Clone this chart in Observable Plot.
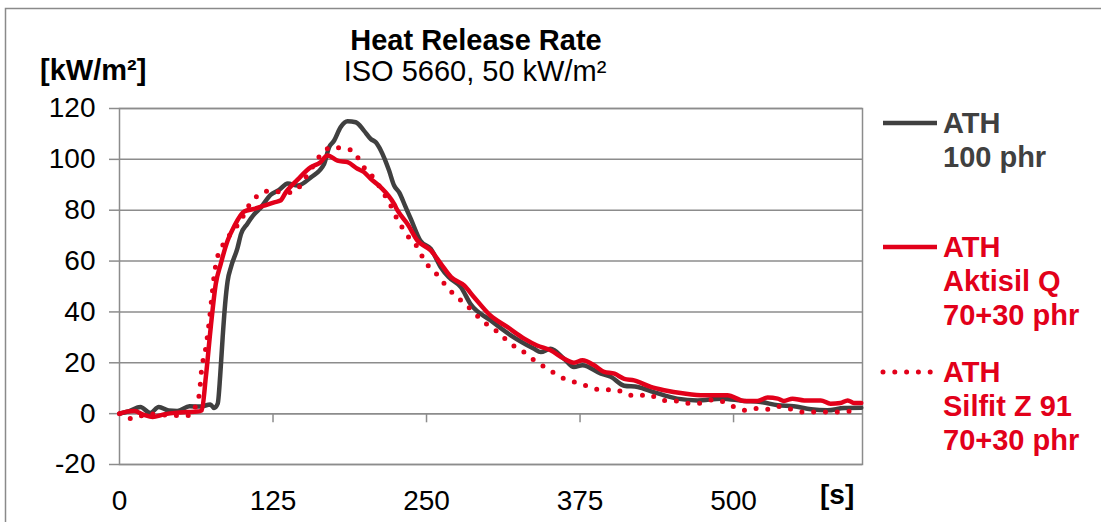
<!DOCTYPE html>
<html>
<head>
<meta charset="utf-8">
<script src="https://cdn.jsdelivr.net/npm/d3@7"></script>
<script src="https://cdn.jsdelivr.net/npm/@observablehq/plot@0.6"></script>
<style>
  html, body { margin: 0; padding: 0; background: #fff; }
  #wrap { position: relative; width: 1101px; height: 522px; overflow: hidden; }
  #wrap > svg { position: absolute; left: 0; top: 0; }
</style>
</head>
<body>
<div id="wrap"></div>
<script>
// ---- data ----
const xTicks = [0, 125, 250, 375, 500];
const yTicks = [-20, 0, 20, 40, 60, 80, 100, 120];

const seriesNames = ["ATH 100 phr", "ATH Aktisil Q 70+30 phr", "ATH Silfit Z 91 70+30 phr"];

// ATH 100 phr
const athT = [0, 8, 17, 25, 32, 40, 47, 57, 66, 74, 77, 80, 82, 84, 86, 88, 91, 96, 99, 104, 110, 115, 123, 130, 137, 145, 156, 166.6, 170.7, 174.8, 180, 185.7, 192.4, 199, 204.6, 208.7, 212.8, 219.5, 223.6, 227.7, 233, 237.2, 245, 253.5, 261.6, 268, 278, 286, 302, 318.6, 337.6, 343, 351, 362, 370, 377, 392, 400, 411, 422, 435, 454, 470.7, 490, 508.6, 522, 536, 549, 563, 576.5, 590, 604];
const athV = [0, 1, 2.6, 0.3, 2.6, 1.2, 1, 2.9, 2.8, 3.6, 2.2, 4, 15, 30, 43, 52, 58, 65, 70.7, 74.6, 78.6, 81, 86, 88, 90.5, 89.7, 93, 98.2, 104.8, 107.4, 112.6, 115, 114.6, 111.3, 108, 106.7, 103.5, 95.6, 89.7, 87, 81.2, 76.6, 68, 64.8, 57.6, 53.7, 49.7, 43, 36.7, 30.8, 25.5, 24.2, 25.5, 21.6, 18.3, 19, 15.7, 14.5, 11, 10.5, 8.5, 5.9, 5.2, 5.9, 5, 4.6, 3.3, 2.9, 1.7, 1.3, 2.2, 2.3];

// ATH / Aktisil Q 70+30 phr
const akT = [0, 6, 12, 20, 27, 36, 47, 55, 63.5, 67, 70.3, 74.3, 78.4, 82.5, 88, 93, 101.5, 109.6, 117.7, 126, 131, 135.4, 145, 155.8, 163, 169.4, 177.5, 185.7, 193.8, 199, 204.6, 212.8, 223.6, 226.4, 234.5, 242.7, 253.5, 261.6, 270, 280.6, 288.7, 302, 316, 329.5, 340, 351, 362, 370, 377, 386.5, 394.6, 403, 411, 419, 432.6, 443.5, 459.8, 476, 495, 508.6, 519.5, 527.7, 536, 541, 548, 557.5, 571, 579, 587, 593, 598, 604];
const akV = [0, 0.8, 1, -0.5, -1.3, -0.3, 0.4, 0.6, 0.8, 1.3, 14.4, 34, 51, 59, 68, 73.3, 79.5, 80.5, 81.8, 83.1, 83.8, 87, 92, 96.9, 98.6, 101.5, 99.5, 98.9, 96.3, 95, 92.3, 89, 82.5, 79.9, 74.6, 68, 64.2, 59, 53.7, 50.4, 45.8, 38.6, 34, 29.5, 26.8, 24.9, 21.6, 20, 21, 19, 16.4, 15.7, 13.7, 13.1, 10.5, 9.2, 7.9, 7.2, 7.2, 5, 5, 6.3, 5.9, 5, 5.9, 5.2, 5.2, 3.9, 4.2, 5.2, 4.2, 4.2];

// ATH / Silfit Z 91 70+30 phr
const sfT = [0, 11, 23, 35, 47, 57, 62, 65, 66.8, 70.3, 73, 75, 77, 79.5, 86.6, 92.4, 99, 102.9, 108.3, 115.8, 124.6, 134, 143.2, 149, 154.4, 165.2, 173.7, 181.8, 190, 195.5, 201, 207.6, 212.8, 222.3, 226.4, 231.8, 237.2, 244, 248, 255, 261, 267, 274, 281.4, 288.3, 295, 303, 310.5, 317.3, 326, 333.6, 341, 349.8, 358, 366, 375.6, 384.6, 393.8, 402.8, 412, 421, 430.8, 439.4, 449, 456.5, 465, 474.8, 484, 494, 502.7, 511, 520.8, 529.8, 538.5, 548, 557, 566.5, 576.5, 586, 595, 603];
const sfV = [0, -2, 0, -0.5, -0.7, -0.7, 3, 7.8, 17, 26, 36, 45, 54, 61, 68, 72, 76, 80, 83.6, 86.9, 87.7, 86.8, 87.6, 91, 95, 102.5, 105, 104.1, 103.6, 99.5, 95.6, 92.4, 88.4, 80.5, 76.2, 72.1, 68.2, 64.6, 60.2, 56.7, 53.3, 49.6, 46.2, 43.2, 40, 36.7, 33.8, 31.2, 27.7, 25.5, 22.5, 19.9, 17.3, 14.7, 13.1, 11.8, 10.2, 9.2, 9.6, 7.9, 6.8, 7.6, 5.6, 5, 5, 3.9, 4.3, 5.5, 4.2, 2.2, 1.3, 2.2, 1.7, 2.9, 1.6, 0.6, 0.6, 0.6, 0.6, 1, 1.3];

const toRows = (T, V) => T.map((t, i) => ({t, v: V[i]}));
const ath = toRows(athT, athV);
const ak = toRows(akT, akV);
const sf = toRows(sfT, sfV);

const GRAY = "#404040";
const RED = "#e2001a";
const GRID = "#8c8c8c";
const FONT = "'Liberation Sans', Arial, Helvetica, sans-serif";

const chart = Plot.plot({
  width: 1101,
  height: 522,
  marginLeft: 119,
  marginRight: 239,
  marginTop: 108,
  marginBottom: 58,
  style: {fontFamily: FONT, fontSize: "28px", color: "#000", background: "transparent", overflow: "visible"},
  x: {domain: [0, 605], axis: null},
  y: {domain: [-20, 120], axis: null},
  marks: [
    Plot.gridY(yTicks, {stroke: GRID, strokeOpacity: 1, strokeWidth: 1.5}),
    Plot.frame({stroke: GRID, strokeWidth: 1.5}),
    Plot.axisY(yTicks, {tickSize: 10, tickPadding: 14, fontSize: 28, stroke: GRID, strokeWidth: 1.5, fill: "#000", label: null, tickFormat: d => String(d)}),
    Plot.axisX(xTicks, {tickSize: 0, tickPadding: 26, fontSize: 28, fill: "#000", label: null, tickFormat: d => String(d)}),
    Plot.ruleX(xTicks.filter(d => d > 0), {y1: 0, y2: -3.6, stroke: GRID, strokeWidth: 1.5}),
    Plot.ruleY([0], {stroke: GRID, strokeWidth: 1.5}),
    Plot.line(ath, {x: "t", y: "v", stroke: GRAY, strokeWidth: 4.5, curve: "monotone-x"}),
    Plot.line(ak, {x: "t", y: "v", stroke: RED, strokeWidth: 4.5, curve: "monotone-x"}),
    Plot.line(sf, {x: "t", y: "v", stroke: RED, strokeWidth: 5, strokeDasharray: "0 11.8", strokeLinecap: "round", curve: "monotone-x"})
  ]
});

const wrap = document.getElementById("wrap");
wrap.appendChild(chart);

// ---- overlay: titles, unit labels, legend, outer border ----
const ov = d3.select(wrap).append("svg")
  .attr("width", 1101).attr("height", 522)
  .style("font-family", FONT);

ov.append("path").attr("d", "M5.5,522V8.5H1101").attr("fill", "none").attr("stroke", "#8a8a8a").attr("stroke-width", 1.5);

ov.append("text").attr("x", 476).attr("y", 50).attr("text-anchor", "middle")
  .attr("font-size", 29).attr("font-weight", "bold").attr("fill", "#000").text("Heat Release Rate");
ov.append("text").attr("x", 475).attr("y", 81).attr("text-anchor", "middle")
  .attr("font-size", 29).attr("fill", "#000").text("ISO 5660, 50 kW/m²");
ov.append("text").attr("x", 40).attr("y", 80)
  .attr("font-size", 29).attr("font-weight", "bold").attr("fill", "#000").text("[kW/m²]");
ov.append("text").attr("x", 820).attr("y", 504)
  .attr("font-size", 28).attr("font-weight", "bold").attr("fill", "#000").text("[s]");

const legend = [
  {color: GRAY, dash: null, y: 123, lines: ["ATH", "100 phr"]},
  {color: RED, dash: null, y: 247, lines: ["ATH", "Aktisil Q", "70+30 phr"]},
  {color: RED, dash: "0 11.8", y: 372, lines: ["ATH", "Silfit Z 91", "70+30 phr"]}
];
legend.forEach(item => {
  const ln = ov.append("line").attr("x1", 883).attr("x2", item.dash ? 931 : 937)
    .attr("y1", item.y).attr("y2", item.y)
    .attr("stroke", item.color).attr("stroke-width", item.dash ? 5 : 4.5);
  if (item.dash) ln.attr("stroke-dasharray", item.dash).attr("stroke-linecap", "round");
  item.lines.forEach((s, i) => {
    ov.append("text").attr("x", 943).attr("y", item.y + 10 + i * 34)
      .attr("font-size", 29).attr("font-weight", "bold").attr("fill", item.color).text(s);
  });
});
</script>
</body>
</html>
